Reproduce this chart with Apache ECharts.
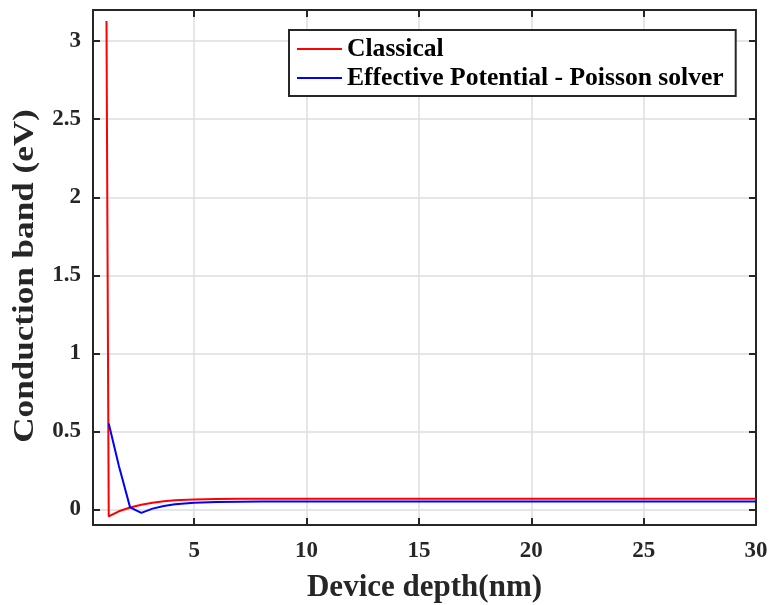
<!DOCTYPE html>
<html>
<head>
<meta charset="utf-8">
<script src="https://cdn.jsdelivr.net/npm/echarts@6/dist/echarts.min.js"></script>
<style>
  html, body { margin: 0; padding: 0; background: #fff; }
  #chart { width: 773px; height: 605px; }
</style>
</head>
<body>
<div id="chart"></div>
<script>
// device depth (nm) and conduction band (eV)
var classicalX = [1.1, 1.2, 1.65, 2.15, 2.65, 3.15, 3.65, 4.15, 5, 6, 7, 8, 10, 15, 20, 25, 30];
var classicalY = [3.13, -0.045, -0.012, 0.012, 0.03, 0.042, 0.052, 0.058, 0.064, 0.067, 0.068, 0.069, 0.069, 0.069, 0.069, 0.069, 0.069];
var effectiveX = [1.2, 1.65, 2.15, 2.65, 3.15, 3.65, 4.15, 5, 6, 7, 8, 10, 15, 20, 25, 30];
var effectiveY = [0.55, 0.28, 0.013, -0.022, 0.005, 0.022, 0.033, 0.043, 0.047, 0.049, 0.05, 0.05, 0.05, 0.05, 0.05, 0.05];
var xTicks = [5, 10, 15, 20, 25, 30];
var yTicks = [0, 0.5, 1, 1.5, 2, 2.5, 3];

var font = 'Liberation Serif';
var dark = '#262626';

function pairs(xs, ys) {
  var out = [];
  for (var i = 0; i < xs.length; i++) out.push([xs[i], ys[i]]);
  return out;
}

var myChart = echarts.init(document.getElementById('chart'));

var axisLine = { show: true, onZero: false, lineStyle: { color: dark, width: 2 } };
var splitLine = { show: true, lineStyle: { color: '#dedede', width: 1.5 } };

function tick(vals) {
  return { show: true, inside: true, length: 7, customValues: vals, lineStyle: { color: dark, width: 2 } };
}

var option = {
  animation: false,
  grid: { left: 93, right: 17, top: 10, bottom: 80, containLabel: false, outerBoundsMode: 'none' },
  // y title drawn as text so it can be stretched along its length like the original
  graphic: [
    {
      type: 'text',
      x: 25,
      y: 276,
      rotation: Math.PI / 2,
      scaleX: 1.17,
      style: {
        text: 'Conduction band (eV)',
        fontFamily: font,
        fontWeight: 'bold',
        fontSize: 30,
        fill: dark,
        align: 'center',
        verticalAlign: 'middle'
      }
    }
  ],
  legend: {
    orient: 'vertical',
    left: 289,
    top: 30,
    padding: [6, 12, 5, 8],
    itemGap: 3,
    itemWidth: 45,
    itemHeight: 2,
    icon: 'rect',
    borderColor: dark,
    borderWidth: 2,
    backgroundColor: '#fff',
    textStyle: { fontFamily: font, fontWeight: 'bold', fontSize: 25.6, color: '#000' },
    data: ['Classical', 'Effective Potential - Poisson solver']
  },
  xAxis: [
    {
      type: 'value',
      min: 0.5,
      max: 30,
      name: 'Device depth(nm)',
      nameLocation: 'middle',
      nameGap: 47,
      nameTextStyle: { fontFamily: font, fontWeight: 'bold', fontSize: 31, color: dark },
      axisLine: axisLine,
      axisTick: tick(xTicks),
      axisLabel: { customValues: xTicks, fontFamily: font, fontWeight: 'bold', fontSize: 23, color: dark, margin: 15 },
      splitLine: splitLine
    },
    {
      type: 'value',
      position: 'top',
      min: 0.5,
      max: 30,
      axisLine: axisLine,
      axisTick: tick(xTicks),
      axisLabel: { show: false },
      splitLine: { show: false }
    }
  ],
  yAxis: [
    {
      type: 'value',
      min: -0.1,
      max: 3.2,
      axisLine: axisLine,
      axisTick: tick(yTicks),
      axisLabel: { customValues: yTicks, fontFamily: font, fontWeight: 'bold', fontSize: 23, color: dark, margin: 12 },
      splitLine: splitLine
    },
    {
      type: 'value',
      position: 'right',
      min: -0.1,
      max: 3.2,
      axisLine: axisLine,
      axisTick: tick(yTicks),
      axisLabel: { show: false },
      splitLine: { show: false }
    }
  ],
  series: [
    {
      name: 'Classical',
      type: 'line',
      symbol: 'none',
      xAxisIndex: 0,
      yAxisIndex: 0,
      itemStyle: { color: '#ff0000' },
      lineStyle: { color: '#ff0000', width: 2 },
      data: pairs(classicalX, classicalY)
    },
    {
      name: 'Effective Potential - Poisson solver',
      type: 'line',
      symbol: 'none',
      xAxisIndex: 0,
      yAxisIndex: 0,
      itemStyle: { color: '#0000ff' },
      lineStyle: { color: '#0000ff', width: 2 },
      data: pairs(effectiveX, effectiveY)
    }
  ]
};

myChart.setOption(option);
</script>
</body>
</html>
